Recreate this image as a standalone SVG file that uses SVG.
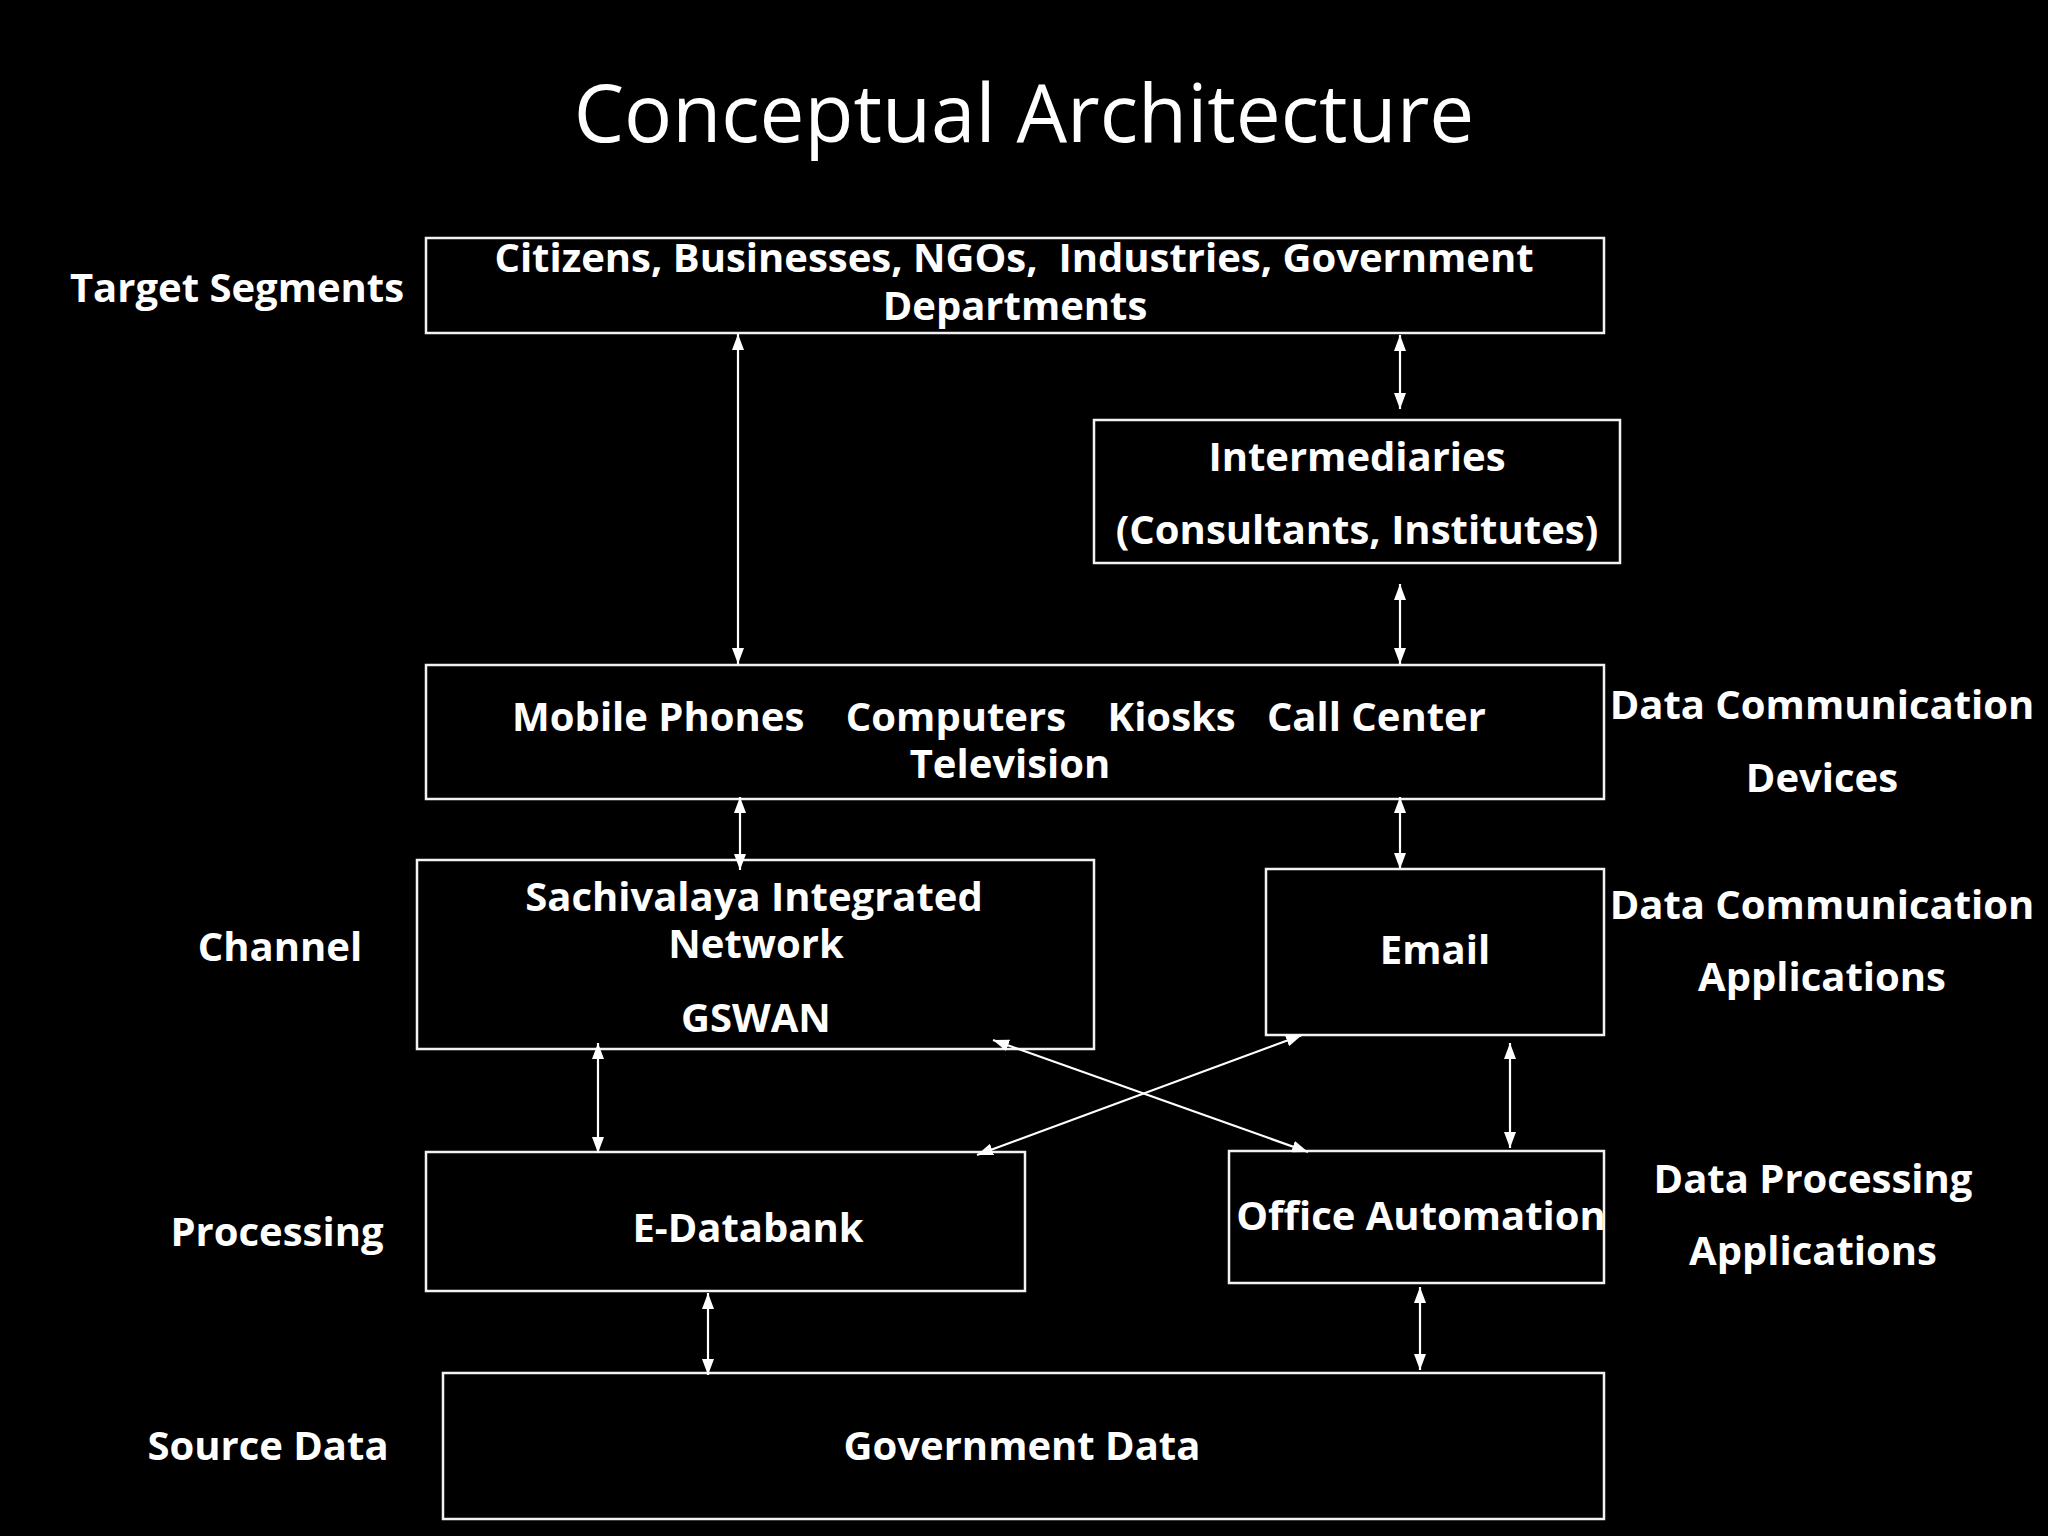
<svg xmlns="http://www.w3.org/2000/svg" width="2048" height="1536" viewBox="0 0 2048 1536">
<style>
.bg{fill:#000}
.box{fill:#000;stroke:#f2f2f2;stroke-width:2.5}
.t{font-family:"Open Sans","Noto Sans","DejaVu Sans",sans-serif;font-weight:bold;font-size:40px;fill:#fff;text-anchor:middle;white-space:pre}
.lab{font-family:"Open Sans","Noto Sans","DejaVu Sans",sans-serif;font-weight:bold;font-size:40px;fill:#fff;text-anchor:middle}
.title{font-family:"Open Sans","Noto Sans",sans-serif;font-size:80px;fill:#fff;text-anchor:middle}
.c{stroke:#fff;stroke-width:2.2;fill:none;marker-start:url(#ah);marker-end:url(#ah)}
</style>
<defs>
<marker id="ah" viewBox="0 0 16 12" refX="16" refY="6" markerWidth="16" markerHeight="12" markerUnits="userSpaceOnUse" orient="auto-start-reverse">
<path d="M0,0 L16,6 L0,12 z" fill="#fff"/>
</marker>
</defs>
<rect class="bg" x="0" y="0" width="2048" height="1536"/>
<text class="title" x="1024" y="142">Conceptual Architecture</text>

<g id="side-labels">
<text class="lab" x="237" y="302">Target Segments</text>
<text class="lab" x="280" y="961">Channel</text>
<text class="lab" x="277" y="1246">Processing</text>
<text class="lab" x="268" y="1460">Source Data</text>
<text class="lab" x="1822" y="719">Data Communication</text>
<text class="lab" x="1822" y="792">Devices</text>
<text class="lab" x="1822" y="919">Data Communication</text>
<text class="lab" x="1822" y="991">Applications</text>
<text class="lab" x="1813" y="1193">Data Processing</text>
<text class="lab" x="1813" y="1265">Applications</text>
</g>

<g id="target-segments">
<rect class="box" x="426" y="238" width="1178" height="95"/>
<text class="t" x="1014" y="272">Citizens, Businesses, NGOs,  Industries, Government</text>
<text class="t" x="1015" y="320">Departments</text>
</g>

<g id="intermediaries">
<rect class="box" x="1094" y="420" width="526" height="143"/>
<text class="t" x="1357" y="471">Intermediaries</text>
<text class="t" x="1357" y="544">(Consultants, Institutes)</text>
</g>

<g id="devices">
<rect class="box" x="426" y="665" width="1178" height="134"/>
<text class="t" x="999" y="731">Mobile Phones    Computers    Kiosks   Call Center</text>
<text class="t" x="1010" y="778">Television</text>
</g>

<g id="sin">
<rect class="box" x="417" y="860" width="677" height="189"/>
<text class="t" x="754" y="911">Sachivalaya Integrated</text>
<text class="t" x="756" y="958">Network</text>
<text class="t" x="756" y="1032">GSWAN</text>
</g>

<g id="email">
<rect class="box" x="1266" y="869" width="338" height="166"/>
<text class="t" x="1435" y="964">Email</text>
</g>

<g id="edatabank">
<rect class="box" x="426" y="1152" width="599" height="139"/>
<text class="t" x="748" y="1242">E-Databank</text>
</g>

<g id="office-automation">
<rect class="box" x="1229" y="1151" width="375" height="132"/>
<text class="t" x="1421" y="1230">Office Automation</text>
</g>

<g id="government-data">
<rect class="box" x="443" y="1373" width="1161" height="146"/>
<text class="t" x="1022" y="1460">Government Data</text>
</g>

<g id="connectors">
<line class="c" x1="738" y1="334" x2="738" y2="664"/>
<line class="c" x1="1400" y1="335" x2="1400" y2="409"/>
<line class="c" x1="1400" y1="584" x2="1400" y2="664"/>
<line class="c" x1="740" y1="797" x2="740" y2="870"/>
<line class="c" x1="1400" y1="797" x2="1400" y2="869"/>
<line class="c" x1="598" y1="1043" x2="598" y2="1153"/>
<line class="c" x1="1510" y1="1043" x2="1510" y2="1148"/>
<line class="c" x1="993" y1="1040" x2="1308" y2="1152"/>
<line class="c" x1="1302" y1="1035" x2="977" y2="1155"/>
<line class="c" x1="708" y1="1293" x2="708" y2="1375"/>
<line class="c" x1="1420" y1="1287" x2="1420" y2="1370"/>
</g>
</svg>
